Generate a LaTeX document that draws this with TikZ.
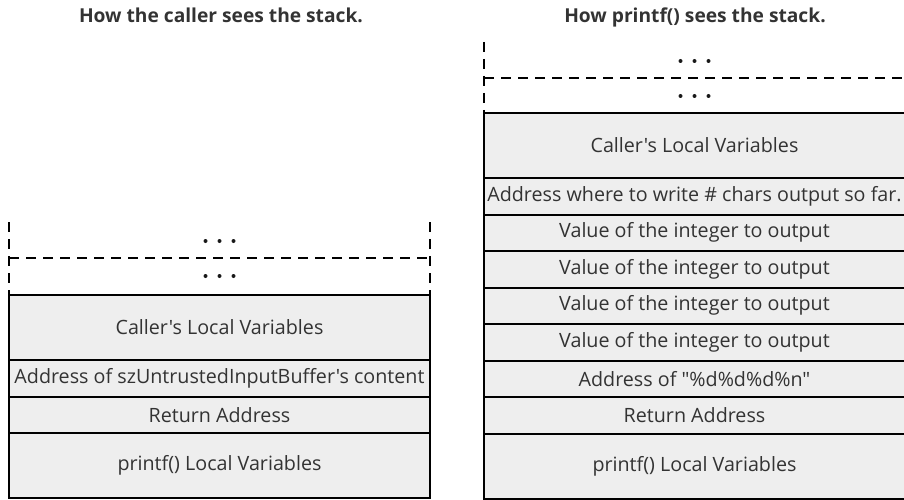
\documentclass[tikz,border=0pt]{standalone}
\usepackage{fontspec}
\setmainfont{Open Sans}[Ligatures=TeXOff]
\usetikzlibrary{positioning}

\definecolor{rowgray}{HTML}{EEEEEE}
\definecolor{txtgray}{HTML}{333333}

\tikzset{
	row/.style={draw, line width=2pt, fill=rowgray, text=txtgray, minimum width=421pt,
		outer sep=0pt, inner sep=0pt, font=\fontsize{19.7}{22}\selectfont},
	small/.style={row, minimum height=36.5pt},
	big/.style={row, minimum height=65pt},
	title/.style={anchor=base, text=txtgray, font=\bfseries\fontsize{19.2}{22}\selectfont},
	gap/.style={line width=2pt, dash pattern=on 10pt off 7pt},
}

\begin{document}
\begin{tikzpicture}[x=1pt, y=-1pt]
		\useasboundingbox (0,0) rectangle (904,500);
		% Caller's view
		\node [title] (ltitle) at (221,23) {How the caller sees the stack.};
		\node [big, anchor=north] (lcaller) at (219.5,295) {Caller's Local Variables};
		\node [small, below=0pt of lcaller] (laddr) {Address of szUntrustedInputBuffer's content};
		\node [small, below=0pt of laddr] (lret) {Return Address};
		\node [big, below=0pt of lret] (lprintf) {printf() Local Variables};
		% Open top of the stack
		\draw [gap] (lcaller.north west) ++(0,-73) -- (lcaller.north west);
		\draw [gap] (lcaller.north east) ++(0,-73) -- (lcaller.north east);
		\draw [gap] (lcaller.north west) ++(0,-37) -- ++(421,0);
		\foreach \dx in {-14,0,14} {
			\fill [txtgray!50!black] (lcaller.north) ++(\dx,-54) circle [radius=2pt];
			\fill [txtgray!50!black] (lcaller.north) ++(\dx,-19) circle [radius=2pt];
		}
		% printf()'s view
		\node [title] (rtitle) at (695,23) {How printf() sees the stack.};
		\node [big, anchor=north] (rcaller) at (694.5,113) {Caller's Local Variables};
		\node [small, below=0pt of rcaller] (rwhere) {\makebox[0pt]{Address where to write \# chars output so far.}};
		\node [small, below=0pt of rwhere] (rval1) {Value of the integer to output};
		\foreach \i [count=\j from 2] in {1,2,3}
			\node [small, below=0pt of rval\i] (rval\j) {Value of the integer to output};
		\node [small, below=0pt of rval4] (rfmt) {Address of "\%d\%d\%d\%n"};
		\node [small, below=0pt of rfmt] (rret) {Return Address};
		\node [big, below=0pt of rret] (rprintf) {printf() Local Variables};
		% Open top of the stack
		\draw [gap] (rcaller.north west) ++(0,-71) -- (rcaller.north west);
		\draw [gap] (rcaller.north west) ++(0,-35) -- ++(421,0);
		\foreach \dx in {-14,0,14} {
			\fill [txtgray!50!black] (rcaller.north) ++(\dx,-52) circle [radius=2pt];
			\fill [txtgray!50!black] (rcaller.north) ++(\dx,-17) circle [radius=2pt];
		}
	\end{tikzpicture}
\end{document}
